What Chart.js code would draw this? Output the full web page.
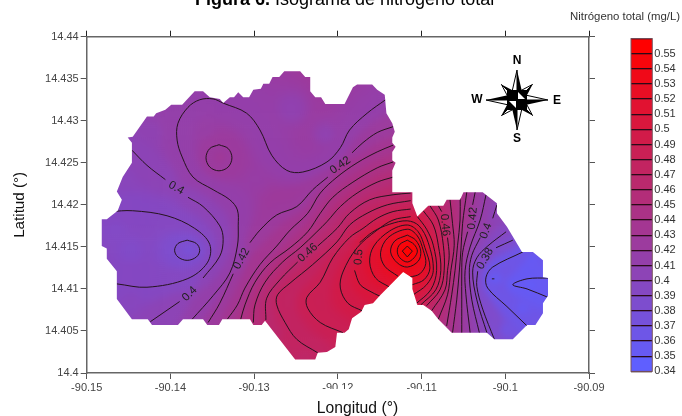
<!DOCTYPE html>
<html><head><meta charset="utf-8">
<style>html,body{margin:0;padding:0;background:#fff;width:682px;height:416px;overflow:hidden}
canvas{position:absolute;display:block;filter:blur(0.35px)}</style>
<script src="https://cdn.jsdelivr.net/npm/chart.js@4"></script>
</head><body>
<canvas id="map" width="682" height="416" style="left:0;top:0"></canvas>
<canvas id="key" width="62" height="350" style="left:620px;top:30px"></canvas>
<script>
const xTicksStep = 0.01, yTicksStep = 0.005;
const legendLevels = [0.34,0.35,0.36,0.37,0.38,0.39,0.4,0.41,0.42,0.43,0.44,0.45,0.46,0.47,0.48,0.49,0.5,0.51,0.52,0.53,0.54,0.55];
const outline = [[-90.1451,14.4280],[-90.1445,14.4281],[-90.1428,14.4305],[-90.1420,14.4305],[-90.1417,14.4309],[-90.1406,14.4313],[-90.1399,14.4319],[-90.1386,14.4319],[-90.1371,14.4335],[-90.1361,14.4335],[-90.1353,14.4328],[-90.1341,14.4326],[-90.1337,14.4321],[-90.1329,14.4328],[-90.1324,14.4328],[-90.1319,14.4334],[-90.1313,14.4328],[-90.1306,14.4328],[-90.1301,14.4337],[-90.1292,14.4338],[-90.1289,14.4344],[-90.1282,14.4344],[-90.1278,14.4352],[-90.1270,14.4352],[-90.1264,14.4359],[-90.1245,14.4359],[-90.1239,14.4352],[-90.1233,14.4352],[-90.1233,14.4335],[-90.1227,14.4328],[-90.1220,14.4328],[-90.1215,14.4320],[-90.1192,14.4320],[-90.1182,14.4340],[-90.1177,14.4343],[-90.1159,14.4343],[-90.1153,14.4337],[-90.1144,14.4331],[-90.1142,14.4309],[-90.1135,14.4297],[-90.1132,14.4287],[-90.1135,14.4280],[-90.1135,14.4274],[-90.1131,14.4269],[-90.1135,14.4263],[-90.1135,14.4253],[-90.1131,14.4250],[-90.1135,14.4241],[-90.1135,14.4215],[-90.1111,14.4215],[-90.1111,14.4202],[-90.1105,14.4186],[-90.1092,14.4199],[-90.1074,14.4199],[-90.1070,14.4206],[-90.1054,14.4206],[-90.1050,14.4215],[-90.1027,14.4215],[-90.1010,14.4202],[-90.1010,14.4190],[-90.0998,14.4174],[-90.0980,14.4144],[-90.0967,14.4144],[-90.0955,14.4134],[-90.0955,14.4114],[-90.0949,14.4113],[-90.0949,14.4092],[-90.0955,14.4083],[-90.0955,14.4071],[-90.0964,14.4057],[-90.0974,14.4057],[-90.0991,14.4040],[-90.1013,14.4040],[-90.1022,14.4048],[-90.1064,14.4048],[-90.1080,14.4064],[-90.1088,14.4074],[-90.1098,14.4081],[-90.1105,14.4081],[-90.1111,14.4100],[-90.1111,14.4113],[-90.1122,14.4120],[-90.1150,14.4092],[-90.1158,14.4083],[-90.1168,14.4081],[-90.1172,14.4073],[-90.1183,14.4065],[-90.1187,14.4052],[-90.1192,14.4048],[-90.1201,14.4048],[-90.1203,14.4031],[-90.1213,14.4025],[-90.1224,14.4024],[-90.1227,14.4016],[-90.1251,14.4016],[-90.1287,14.4062],[-90.1291,14.4057],[-90.1301,14.4057],[-90.1305,14.4064],[-90.1338,14.4064],[-90.1342,14.4057],[-90.1356,14.4057],[-90.1361,14.4064],[-90.1385,14.4064],[-90.1391,14.4057],[-90.1422,14.4057],[-90.1427,14.4064],[-90.1446,14.4064],[-90.1464,14.4088],[-90.1464,14.4121],[-90.1476,14.4136],[-90.1476,14.4148],[-90.1482,14.4151],[-90.1482,14.4183],[-90.1476,14.4183],[-90.1463,14.4193],[-90.1458,14.4206],[-90.1464,14.4216],[-90.1457,14.4233],[-90.1446,14.4250],[-90.1446,14.4274]];

const iso035a = [[-90.0949,14.4113],[-90.0974,14.4112],[-90.0991,14.4105],[-90.0974,14.4100],[-90.0949,14.4090]];
const iso035b = [[-90.1016,14.4112],[-90.1013,14.4112]];
const iso036 = [[-90.0979,14.4144],[-90.1015,14.4126],[-90.1023,14.4114],[-90.1021,14.4101],[-90.0998,14.4079],[-90.0974,14.4056]];
const iso038a = [[-90.1380,14.4158],[-90.1369,14.4154],[-90.1365,14.4146],[-90.1369,14.4138],[-90.1380,14.4134],[-90.1391,14.4138],[-90.1395,14.4146],[-90.1391,14.4154],[-90.1380,14.4158]];
const iso038b = [[-90.0991,14.4158],[-90.1011,14.4149],null,[-90.1033,14.4121],[-90.1034,14.4103],[-90.1027,14.4076],[-90.1013,14.4040]];
const iso039a = [[-90.1472,14.4192],[-90.1445,14.4193],[-90.1404,14.4187],[-90.1371,14.4172],[-90.1353,14.4153],[-90.1356,14.4131],[-90.1380,14.4112],[-90.1428,14.4102],[-90.1464,14.4106]];
const iso039b = [[-90.0999,14.4168],[-90.1021,14.4151],[-90.1034,14.4137],[-90.1039,14.4120],[-90.1034,14.4087],[-90.1022,14.4048]];
const iso040a = [[-90.1446,14.4265],[-90.1428,14.4247],[-90.1406,14.4230],null,[-90.1379,14.4209],[-90.1361,14.4198],[-90.1341,14.4175],[-90.1337,14.4159],[-90.1341,14.4139],[-90.1361,14.4113],null,[-90.1389,14.4085],[-90.1424,14.4061]];
const iso040b = [[-90.1010,14.4200],[-90.1015,14.4184],null,[-90.1030,14.4161],[-90.1040,14.4140],[-90.1043,14.4120],[-90.1040,14.4087],[-90.1031,14.4048]];
const iso041a = [[-90.1143,14.4325],[-90.1165,14.4309],[-90.1186,14.4289],[-90.1197,14.4268],[-90.1213,14.4251],[-90.1242,14.4239],[-90.1261,14.4241],[-90.1279,14.4259],[-90.1293,14.4289],[-90.1309,14.4309],[-90.1337,14.4321],[-90.1349,14.4326],[-90.1365,14.4325],[-90.1379,14.4316],[-90.1391,14.4297],[-90.1392,14.4277],[-90.1386,14.4257],[-90.1373,14.4233],[-90.1349,14.4218],[-90.1329,14.4206],[-90.1320,14.4194],[-90.1319,14.4175],[-90.1320,14.4151],[-90.1329,14.4119],[-90.1349,14.4092],[-90.1374,14.4064]];
const iso041b = [[-90.1023,14.4212],[-90.1030,14.4182],[-90.1042,14.4150],[-90.1048,14.4122],[-90.1047,14.4093],[-90.1042,14.4048]];
const iso042a = [[-90.1342,14.42715],[-90.1331,14.4267],[-90.13265,14.4256],[-90.1331,14.4245],[-90.1342,14.42405],[-90.1353,14.4245],[-90.13575,14.4256],[-90.1353,14.4267],[-90.1342,14.42715]];
const iso042b = [[-90.1134,14.4293],[-90.1153,14.4286],[-90.1170,14.4274],[-90.1183,14.4262],null,[-90.1212,14.4233],[-90.1230,14.4218],[-90.1249,14.4198],[-90.1273,14.4188],[-90.1293,14.4170],[-90.1305,14.4155],null,[-90.1325,14.4118],[-90.1341,14.4083],[-90.1355,14.4060]];
const iso042c = [[-90.1036,14.4215],[-90.1039,14.4200],null,[-90.1045,14.4168],[-90.1051,14.4143],[-90.1052,14.4119],[-90.1052,14.4087],[-90.1052,14.4048]];
const iso043a = [[-90.1134,14.4271],[-90.1153,14.4263],[-90.1177,14.4250],[-90.1201,14.4233],[-90.1221,14.4214],[-90.1236,14.4190],[-90.1257,14.4170],[-90.1273,14.4151],[-90.1293,14.4129],[-90.1311,14.4101],[-90.1320,14.4081],[-90.1332,14.4064]];
const iso043b = [[-90.1046,14.4215],[-90.1051,14.4178],[-90.1053,14.4146],[-90.1055,14.4120],[-90.1058,14.4087],[-90.1063,14.4048]];
const iso044a = [[-90.1134,14.4251],[-90.1153,14.4244],[-90.1182,14.4227],[-90.1206,14.4209],[-90.1221,14.4190],[-90.1236,14.4168],[-90.1257,14.4149],[-90.1281,14.4131],[-90.1299,14.4108],[-90.1311,14.4081],[-90.1316,14.4064]];
const iso044b = [[-90.1054,14.4214],[-90.1054,14.4182],[-90.1057,14.4152],[-90.1060,14.4122],[-90.1064,14.4093],[-90.1070,14.4056]];
const iso045a = [[-90.1134,14.4233],[-90.1153,14.4227],[-90.1177,14.4214],[-90.1197,14.4198],[-90.1213,14.4180],[-90.1225,14.4168],[-90.1245,14.4149],[-90.1266,14.4132],[-90.1287,14.4108],[-90.1299,14.4081],[-90.1301,14.4060]];
const iso045b = [[-90.1066,14.4206],[-90.1063,14.4178],[-90.1061,14.4152],[-90.1065,14.4122],[-90.1069,14.4093],[-90.1080,14.4064]];
const iso046a = [[-90.1113,14.4214],[-90.1134,14.4212],[-90.1162,14.4206],[-90.1186,14.4190],[-90.1201,14.4172],[-90.1224,14.4151],null,[-90.1248,14.4132],[-90.1269,14.4111],[-90.1285,14.4089],[-90.1286,14.4063]];
const iso046b = [[-90.1080,14.4199],[-90.1076,14.4192],null,[-90.1069,14.4161],[-90.1067,14.4140],[-90.1069,14.4122],[-90.1072,14.4099],[-90.1088,14.4074]];
const iso047a = [[-90.1224,14.4024],[-90.1249,14.4040],[-90.1263,14.4060],[-90.1273,14.4081],[-90.1272,14.4093],[-90.1257,14.4107],[-90.1230,14.4129],[-90.1201,14.4156],[-90.1186,14.4176],[-90.1165,14.4190],[-90.1141,14.4200],[-90.1113,14.4205]];
const iso047b = [[-90.1090,14.4199],[-90.1080,14.4182],[-90.1074,14.4152],[-90.1073,14.4122],[-90.1078,14.4099],[-90.1094,14.4080]];
const iso048a = [[-90.1194,14.4048],[-90.1221,14.4060],[-90.1236,14.4077],[-90.1237,14.4090],[-90.1221,14.4108],[-90.1206,14.4137],[-90.1186,14.4161],[-90.1170,14.4172],[-90.1153,14.4184],[-90.1134,14.4192],[-90.1113,14.4195]];
const iso048b = [[-90.1098,14.4193],[-90.1086,14.4176],[-90.1080,14.4152],[-90.1077,14.4122],[-90.1083,14.4099],[-90.1101,14.4081]];
const iso049a = [[-90.1171,14.4074],[-90.1188,14.4083],[-90.1197,14.4101],[-90.1194,14.4120],[-90.1177,14.4149],[-90.1153,14.4170],[-90.1134,14.4182],[-90.1113,14.4186]];
const iso049b = [[-90.1105,14.4186],[-90.1094,14.4171],[-90.1086,14.4152],[-90.1082,14.4122],[-90.1089,14.4099],[-90.1107,14.4082]];
const iso050 = [[-90.1147,14.4090],[-90.1165,14.4099],[-90.1174,14.4106],[-90.1180,14.4122],null,[-90.1174,14.4155],[-90.1158,14.4168],[-90.1138,14.4177],[-90.1117,14.4181],[-90.1103,14.4175],[-90.1092,14.4155],[-90.1086,14.4122],[-90.1094,14.4105],[-90.1110,14.4093]];
const iso051 = [[-90.1138,14.4102],[-90.1155,14.4113],[-90.1162,14.4132],[-90.1157,14.4151],[-90.1138,14.4169],[-90.1117,14.4176],[-90.1104,14.4168],[-90.1096,14.4149],[-90.1090,14.4125],[-90.1097,14.4111],[-90.1111,14.4105]];
const iso052 = [[-90.1128,14.4115],[-90.1144,14.4127],[-90.1149,14.4143],[-90.1140,14.4161],[-90.1117,14.4171],[-90.1105,14.4163],[-90.1098,14.4146],[-90.1095,14.4130],[-90.1102,14.4118],[-90.1114,14.4114]];
const iso053 = [[-90.1117,14.4164],[-90.1107,14.4158],[-90.1101,14.4145],[-90.1104,14.4133],[-90.1117,14.4126],[-90.1129,14.4131],[-90.1137,14.4144],[-90.1132,14.4157],[-90.1117,14.4164]];
const iso054 = [[-90.1117,14.4158],[-90.1109,14.4153],[-90.1105,14.4145],[-90.1109,14.4137],[-90.1117,14.4132],[-90.1126,14.4137],[-90.1129,14.4145],[-90.1126,14.4153],[-90.1117,14.4158]];
const iso055 = [[-90.1117,14.4151],[-90.1111,14.4145],[-90.1117,14.4138],[-90.1123,14.4145],[-90.1117,14.4151]];

const isoLines = [[0.35,iso035a],[0.35,iso035b],[0.36,iso036],[0.38,iso038a],[0.38,iso038b],[0.39,iso039a],[0.39,iso039b],[0.4,iso040a],[0.4,iso040b],[0.41,iso041a],[0.41,iso041b],[0.42,iso042a],[0.42,iso042b],[0.42,iso042c],[0.43,iso043a],[0.43,iso043b],[0.44,iso044a],[0.44,iso044b],[0.45,iso045a],[0.45,iso045b],[0.46,iso046a],[0.46,iso046b],[0.47,iso047a],[0.47,iso047b],[0.48,iso048a],[0.48,iso048b],[0.49,iso049a],[0.49,iso049b],[0.5,iso050],[0.51,iso051],[0.52,iso052],[0.53,iso053],[0.54,iso054],[0.55,iso055]];

const spotLon = [-90.1257,-90.1424,-90.1215,-90.1359,-90.1299,-90.1342,-90.1380,-90.1448,-90.1466,-90.1454,-90.1448,-90.1117,-90.1239,-90.1275,-90.0971,-90.0977,-90.0982,-90.0970,-90.1000];
const spotLat = [14.4313,14.4283,14.4283,14.4289,14.4230,14.4256,14.4146,14.4146,14.4170,14.4230,14.4087,14.4145,14.4021,14.4051,14.4104,14.4122,14.4075,14.4134,14.4051];
const spotVal = [0.405,0.403,0.405,0.414,0.414,0.425,0.372,0.385,0.387,0.396,0.394,0.56,0.465,0.462,0.345,0.35,0.35,0.35,0.365];

const labelText = ['0.42','0.4','0.4','0.42','0.46','0.5','0.46','0.42','0.4','0.38'];
const labelLon = [-90.1197,-90.1393,-90.1377,-90.1315,-90.1236,-90.1175,-90.1072,-90.1039,-90.1023,-90.1024];
const labelLat = [14.4247,14.4220,14.4094,14.4136,14.4143,14.4138,14.4176,14.4184,14.4169,14.4136];
const labelAngle = [-35,30,-45,-62,-42,-85,85,-85,-70,-60];

const FONT = '"Liberation Sans", Arial, sans-serif';
const LOW = [95,95,255], HIGH = [255,0,0];
function levelColor(v){
  const t = Math.max(0, Math.min(1, (v - 0.34) / 0.21));
  return 'rgb(' + LOW.map((c,i)=>Math.round(c + (HIGH[i]-c)*t)).join(',') + ')';
}

// Anchor list for the colour field: the contour lines themselves plus the spot values
function anchors(){
  const ax=[], ay=[], av=[];
  for (const [lev,line] of isoLines){
    for (let i=0;i<line.length;i++){
      const p=line[i]; if(!p) continue;
      ax.push(p[0]); ay.push(p[1]); av.push(lev);
      const q=line[i+1]; if(!q) continue;
      const d=Math.hypot(q[0]-p[0],q[1]-p[1]), n=Math.floor(d/0.0004);
      for(let k=1;k<=n;k++){ const f=k/(n+1);
        ax.push(p[0]+(q[0]-p[0])*f); ay.push(p[1]+(q[1]-p[1])*f); av.push(lev); }
    }
  }
  spotLon.forEach((x,i)=>{ ax.push(x); ay.push(spotLat[i]); av.push(spotVal[i]); });
  return [Float64Array.from(ax),Float64Array.from(ay),Float64Array.from(av)];
}

const fieldPlugin = { id:'field', beforeDatasetsDraw(chart){
  const {ctx,scales:{x,y}} = chart;
  const off=document.createElement('canvas'); off.width=chart.width; off.height=chart.height;
  const o=off.getContext('2d');
  const [ax,ay,av]=anchors(), N=ax.length, step=0.00024;
  for(let lon=-90.1500; lon<-90.0935; lon+=step){
    const px=x.getPixelForValue(lon), pw=x.getPixelForValue(lon+step)-px;
    for(let lat=14.4002; lat<14.4372; lat+=step){
      let s=0,w=0;
      for(let i=0;i<N;i++){
        const dx=(ax[i]-lon)*1e4, dy=(ay[i]-lat)*1e4, d=dx*dx+dy*dy+0.3, g=1/(d*d);
        s+=g*av[i]; w+=g;
      }
      o.fillStyle=levelColor(s/w);
      const py=y.getPixelForValue(lat+step), ph=y.getPixelForValue(lat)-py;
      o.fillRect(px,py,pw+0.7,ph+0.7);
    }
  }
  ctx.save();
  ctx.beginPath();
  outline.forEach((p,i)=>{ const a=x.getPixelForValue(p[0]), b=y.getPixelForValue(p[1]); i?ctx.lineTo(a,b):ctx.moveTo(a,b); });
  ctx.closePath(); ctx.clip();
  ctx.filter='blur(2.5px)'; ctx.drawImage(off,0,0); ctx.filter='none';
}, afterDatasetsDraw(chart){ chart.ctx.restore(); }};

function drawCompass(ctx,cx,cy){
  const arm=(dx,dy,len,w)=>{
    const nx=-dy, ny=dx;
    ctx.beginPath(); ctx.moveTo(cx+dx*len,cy+dy*len); ctx.lineTo(cx+dx*6+nx*w,cy+dy*6+ny*w); ctx.lineTo(cx,cy); ctx.closePath(); ctx.fillStyle='#000'; ctx.fill();
    ctx.beginPath(); ctx.moveTo(cx+dx*len,cy+dy*len); ctx.lineTo(cx+dx*6-nx*w,cy+dy*6-ny*w); ctx.lineTo(cx,cy); ctx.closePath(); ctx.fillStyle='#fff'; ctx.fill();
    ctx.strokeStyle='#000'; ctx.lineWidth=1; ctx.stroke();
  };
  const d=Math.SQRT1_2;
  [[d,d],[d,-d],[-d,d],[-d,-d]].forEach(v=>arm(v[0],v[1],22,5));
  [[0,-1],[1,0],[0,1],[-1,0]].forEach(v=>arm(v[0],v[1],v[0]?31:30,5.5));
  ctx.fillStyle='#000'; ctx.fillRect(cx-10,cy-10,20,20);
  ctx.fillStyle='#fff';
  ctx.beginPath(); ctx.moveTo(cx+1,cy-1); ctx.lineTo(cx+1,cy-8); ctx.lineTo(cx+8,cy-1); ctx.closePath(); ctx.fill();
  ctx.beginPath(); ctx.moveTo(cx-1,cy+1); ctx.lineTo(cx-1,cy+8); ctx.lineTo(cx-8,cy+1); ctx.closePath(); ctx.fill();
  ctx.fillStyle='#000'; ctx.font='bold 12px '+FONT; ctx.textAlign='center'; ctx.textBaseline='middle';
  ctx.fillText('N',cx,cy-39); ctx.fillText('S',cx,cy+39); ctx.fillText('W',cx-40,cy); ctx.fillText('E',cx+40,cy+1);
}

const textPlugin = { id:'texts', afterDatasetsDraw(chart){
  const {ctx,scales:{x,y}} = chart;
  ctx.save();
  ctx.fillStyle='#222'; ctx.font='11.5px '+FONT; ctx.textAlign='center'; ctx.textBaseline='middle';
  labelText.forEach((t,i)=>{
    ctx.save(); ctx.translate(x.getPixelForValue(labelLon[i]),y.getPixelForValue(labelLat[i]));
    ctx.rotate(labelAngle[i]*Math.PI/180); ctx.fillText(t,0,0); ctx.restore();
  });
  ctx.restore();
}, afterDraw(chart){
  const {ctx} = chart;
  ctx.save();
  ctx.fillStyle='#fff'; ctx.fillRect(300,389,122,27);
  ctx.fillStyle='#111'; ctx.font='15.7px '+FONT; ctx.textAlign='center'; ctx.textBaseline='alphabetic';
  ctx.fillText('Longitud (°)',357.5,413);
  ctx.textAlign='left'; ctx.fillStyle='#000';
  ctx.font='bold 18px '+FONT; const a='Figura 6.';
  ctx.fillText(a,195,5);
  const w=ctx.measureText(a).width;
  ctx.font='18px '+FONT; ctx.fillText(' Isograma de nitrógeno total',195+w,5);
  ctx.fillStyle='#333'; ctx.font='11.4px '+FONT; ctx.fillText('Nitrógeno total (mg/L)',570,20);
  drawCompass(ctx,517,100);
  ctx.restore();
}};

const tickFont={family:FONT,size:11};
const gridBase={drawOnChartArea:false,drawTicks:true,tickLength:6,tickColor:'#555',tickWidth:1,color:'#555'};
const borderBase={display:true,color:'#666',width:1.5};
const fixY=(v)=>(s)=>{s.width=v;}, fixX=(v)=>(s)=>{s.height=v;};
const pairs=(line)=>line.map(p=>p?{x:p[0],y:p[1]}:{x:NaN,y:NaN});

new Chart(document.getElementById('map'),{
  type:'scatter',
  data:{datasets:isoLines.map(([lev,line])=>({
    label:String(lev),data:pairs(line),showLine:true,spanGaps:false,
    borderColor:'#26141e',borderWidth:1,tension:line===iso055?0:0.35,pointRadius:0,fill:false
  }))},
  plugins:[fieldPlugin,textPlugin],
  options:{
    responsive:false,animation:false,devicePixelRatio:1,
    layout:{padding:0},
    plugins:{legend:{display:false},tooltip:{enabled:false},title:{display:false}},
    scales:{
      x:{type:'linear',position:'bottom',min:-90.15,max:-90.09,afterFit:fixX(43),
        ticks:{stepSize:xTicksStep,autoSkip:false,maxRotation:0,padding:2,color:'#444',font:tickFont,
          callback:v=>String(+v.toFixed(2))},
        grid:gridBase,border:borderBase},
      x2:{type:'linear',position:'top',min:-90.15,max:-90.09,afterFit:fixX(36.7),
        ticks:{stepSize:xTicksStep,display:false},grid:{...gridBase,tickColor:'#222'},border:borderBase},
      y:{type:'linear',position:'left',min:14.4,max:14.44,afterFit:fixY(86.7),
        ticks:{stepSize:yTicksStep,autoSkip:false,padding:2,color:'#444',font:tickFont,
          callback:v=>String(+v.toFixed(3))},
        title:{display:true,text:'Latitud (°)',color:'#111',font:{family:FONT,size:15.2},padding:{top:11,bottom:0}},
        grid:gridBase,border:borderBase},
      y2:{type:'linear',position:'right',min:14.4,max:14.44,afterFit:fixY(93),
        ticks:{stepSize:yTicksStep,display:false},grid:gridBase,border:borderBase}
    }
  }
});

new Chart(document.getElementById('key'),{
  type:'bar',
  data:{labels:[''],datasets:legendLevels.map(lo=>({
    label:String(lo),data:[[lo,+(lo+0.01).toFixed(2)]],backgroundColor:levelColor(lo),borderWidth:0,
    barPercentage:1,categoryPercentage:1,grouped:false
  }))},
  plugins:[{id:'frame',afterDraw(c){const a=c.chartArea,t=c.ctx;t.save();t.strokeStyle='#7a5560';t.lineWidth=1;t.strokeRect(a.left,a.top,a.width,a.height);t.restore();}}],
  options:{
    responsive:false,animation:false,devicePixelRatio:1,
    layout:{padding:{left:11,top:7,bottom:7.3,right:0}},
    plugins:{legend:{display:false},tooltip:{enabled:false}},
    scales:{
      x:{display:false},
      y:{type:'linear',position:'right',min:0.34,max:0.56,afterFit:fixY(29.7),
        ticks:{stepSize:0.01,autoSkip:false,padding:2,color:'#333',font:tickFont,
          callback:v=>Math.abs(v-0.56)<1e-6?'':String(+v.toFixed(2))},
        grid:{color:'#2a0a18',lineWidth:1.3,drawTicks:false,z:1},
        border:{display:false}}
    }
  }
});
</script>
</body></html>
